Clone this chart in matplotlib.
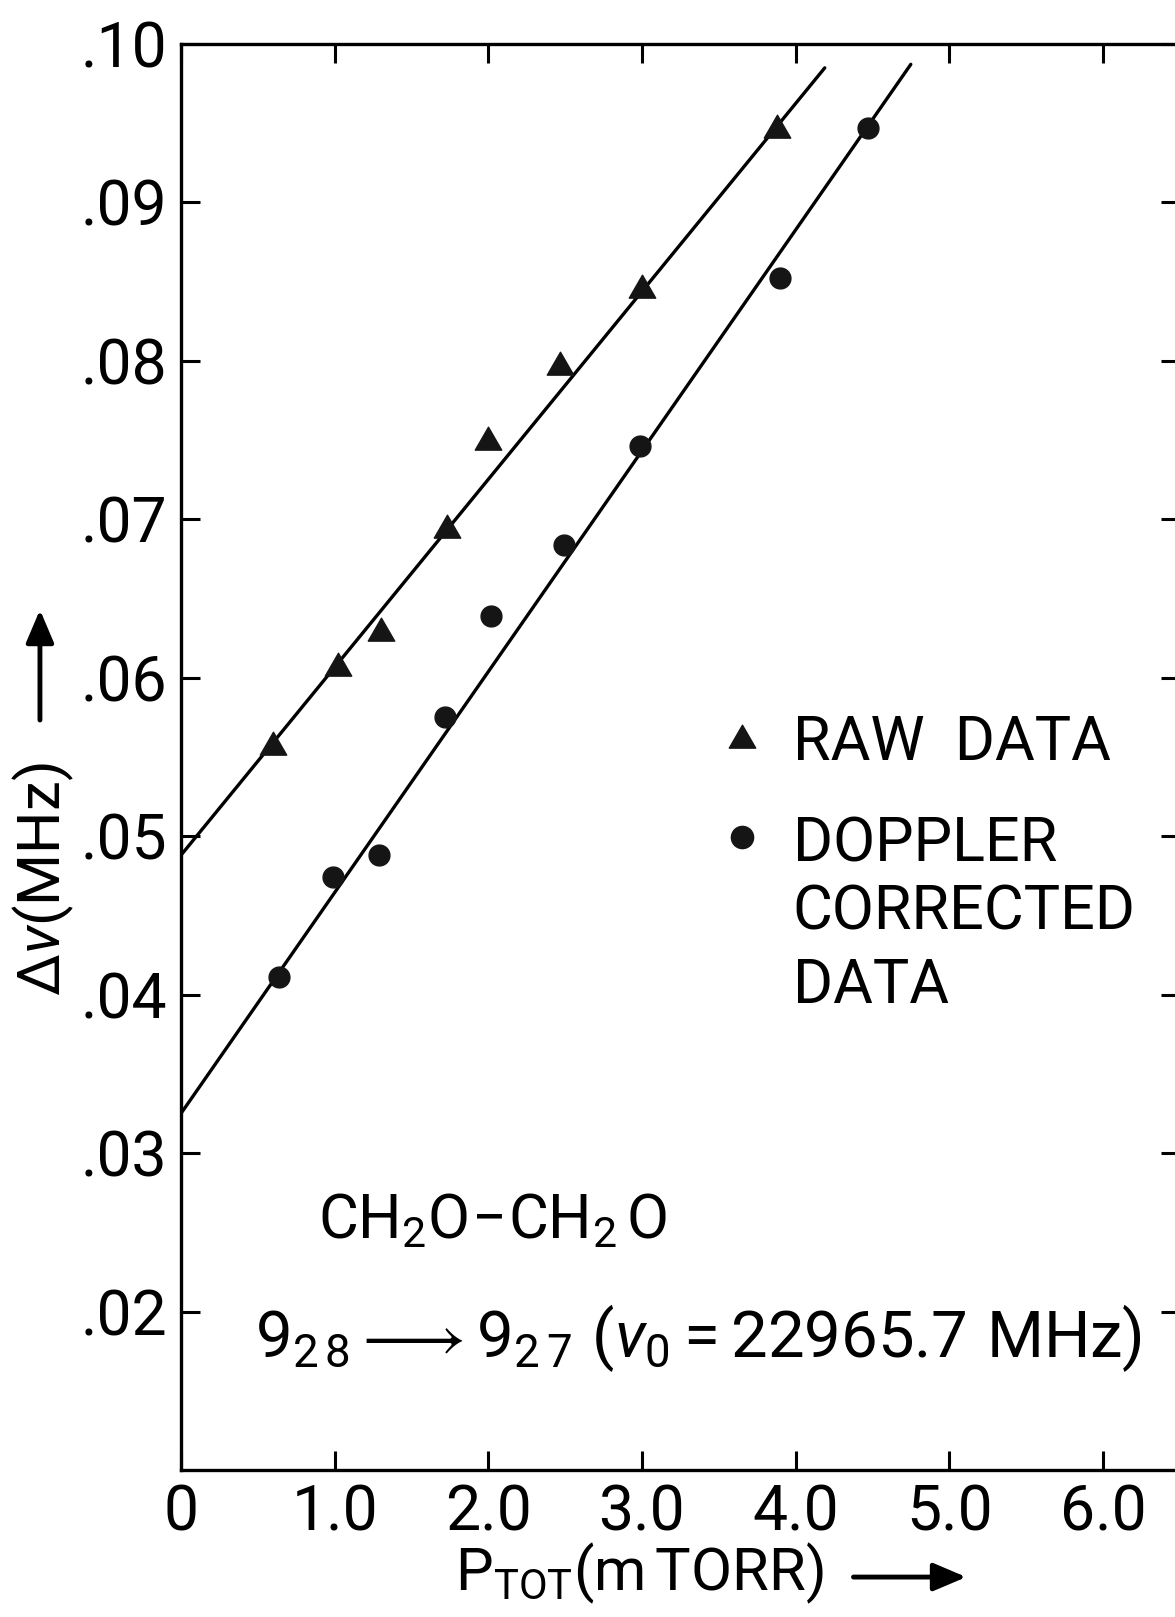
import numpy as np
import matplotlib
matplotlib.use('Agg')
import matplotlib.pyplot as plt
from matplotlib.path import Path

# ---- data ----
raw_p = [0.60, 1.02, 1.30, 1.73, 2.00, 2.47, 3.00, 3.88]
raw_dv = [0.0556, 0.0606, 0.0628, 0.0693, 0.0749, 0.0796, 0.0845, 0.0946]

corr_p = [0.64, 0.99, 1.29, 1.72, 2.02, 2.49, 2.99, 3.90, 4.47]
corr_dv = [0.0411, 0.0474, 0.0488, 0.0575, 0.0639, 0.0684, 0.0746, 0.0852, 0.0947]

# straight-line fits: intercept, slope, end of drawn line
raw_fit = [0.0488, 0.01186, 4.19]
corr_fit = [0.0325, 0.01394, 4.75]

x_ticks = [0, 1, 2, 3, 4, 5, 6]
x_labels = ['0', '1.0', '2.0', '3.0', '4.0', '5.0', '6.0']
y_ticks = [0.02, 0.03, 0.04, 0.05, 0.06, 0.07, 0.08, 0.09, 0.10]
y_labels = ['.02', '.03', '.04', '.05', '.06', '.07', '.08', '.09', '.10']

plt.rcParams['font.family'] = ['Roboto', 'DejaVu Sans']
plt.rcParams['mathtext.fontset'] = 'custom'
plt.rcParams['mathtext.rm'] = 'Roboto'
plt.rcParams['mathtext.it'] = 'Roboto:italic'
plt.rcParams['mathtext.bf'] = 'Roboto:bold'

# equilateral triangle marker
tri = Path([(-1, -0.577), (1, -0.577), (0, 1.155), (-1, -0.577)],
           [Path.MOVETO, Path.LINETO, Path.LINETO, Path.CLOSEPOLY])
ARROW = '-|>,head_length=2.0,head_width=0.85'

fig = plt.figure(figsize=(11.75, 16.17), dpi=100)
ax = fig.add_axes([0.154, 0.0909, 0.850, 0.8819])

# fit lines
for fit in (raw_fit, corr_fit):
    xs = np.array([0.0, fit[2]])
    ax.plot(xs, fit[0] + fit[1] * xs, color='black', lw=2.4, solid_capstyle='round')

ax.plot(raw_p, raw_dv, linestyle='none', marker=tri, ms=22, color='#151515')
ax.plot(corr_p, corr_dv, linestyle='none', marker='o', ms=15, color='#151515')

ax.set_xlim(0, 6.5)
ax.set_ylim(0.01, 0.10)
ax.set_xticks(x_ticks)
ax.set_xticklabels(x_labels)
ax.set_yticks(y_ticks)
ax.set_yticklabels(y_labels)
ax.tick_params(direction='in', length=14, width=2.2, top=True, right=True,
               labelsize=45, pad=10)
for s in ax.spines.values():
    s.set_linewidth(2.4)

# legend (hand drawn in the original)
ax.plot([0.5616], [0.512], transform=ax.transAxes, marker=tri, ms=22,
        color='#151515', clip_on=False)
ax.plot([0.5616], [0.444], transform=ax.transAxes, marker='o', ms=16,
        color='#151515', clip_on=False)
for txt, yb in [('RAW  DATA', 0.4979), ('DOPPLER', 0.4264),
                ('CORRECTED', 0.3787), ('DATA', 0.3275)]:
    ax.text(0.6126, yb, txt, transform=ax.transAxes, fontsize=44, va='baseline')

# annotations
ax.text(0.137, 0.1627, r'$\mathrm{CH_2O\!-\!CH_2\,O}$', transform=ax.transAxes,
        fontsize=44, va='baseline')
ax.text(0.074, 0.0792,
        r'$\mathrm{9_{2\,8}}\longrightarrow\mathrm{9_{2\,7}\ (}\nu_\mathrm{0}\mathrm{=22965.7\ MHz)}$',
        transform=ax.transAxes, fontsize=47, va='baseline')

# axis labels with arrows
fig.text(0.3872, 0.0167, r'$\mathrm{P_{TOT}(m\,TORR)}$', fontsize=43, va='baseline')
ax.annotate('', xy=(0.8247, 0.0247), xytext=(0.724, 0.0247), xycoords='figure fraction',
            arrowprops=dict(arrowstyle=ARROW, color='black', lw=3.5))

fig.text(0.037, 0.456, r'$\Delta\nu$(MHz)', fontsize=43, rotation=90,
         ha='center', va='center')
ax.annotate('', xy=(0.034, 0.6246), xytext=(0.034, 0.553), xycoords='figure fraction',
            arrowprops=dict(arrowstyle=ARROW, color='black', lw=3.5))

fig.savefig('out.png', dpi=100)
